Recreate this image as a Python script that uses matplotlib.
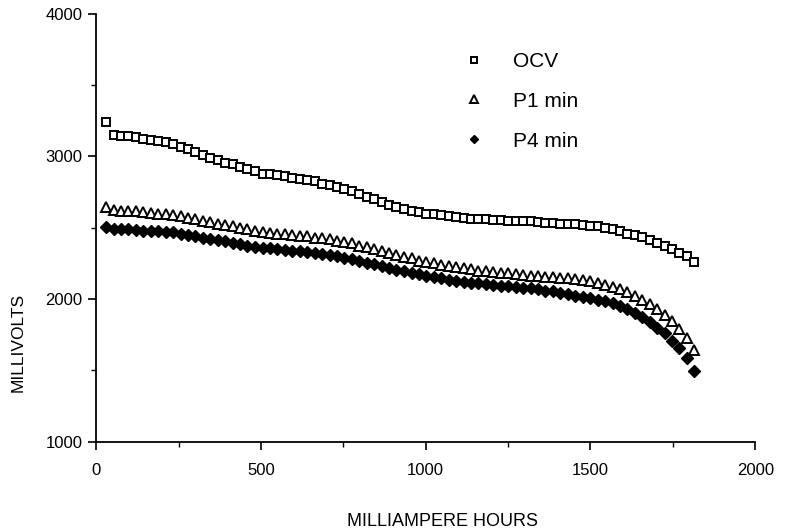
import matplotlib
matplotlib.use("Agg")
import matplotlib.pyplot as plt
from matplotlib.ticker import MultipleLocator

# capacity drawn (mAh) - shared by all three series
mah = [30, 53, 75, 98, 120, 143, 166, 188, 211, 233,
       256, 279, 301, 324, 346, 369, 392, 414, 437, 459,
       482, 505, 527, 550, 572, 595, 618, 640, 663, 685,
       708, 731, 753, 776, 798, 821, 844, 866, 889, 911,
       934, 957, 979, 1002, 1024, 1047, 1070, 1092, 1115, 1137,
       1160, 1183, 1205, 1228, 1250, 1273, 1296, 1318, 1341, 1363,
       1386, 1409, 1431, 1454, 1476, 1499, 1522, 1544, 1567, 1589,
       1612, 1635, 1657, 1680, 1702, 1725, 1748, 1770, 1793, 1815]

ocv = [3240, 3150, 3145, 3140, 3135, 3125, 3115, 3110, 3100, 3090,
       3065, 3050, 3030, 3010, 2990, 2975, 2955, 2945, 2925, 2910,
       2895, 2880, 2875, 2870, 2860, 2850, 2845, 2835, 2825, 2810,
       2800, 2785, 2770, 2755, 2735, 2715, 2700, 2680, 2660, 2645,
       2630, 2620, 2610, 2600, 2595, 2590, 2585, 2575, 2570, 2565,
       2560, 2560, 2555, 2555, 2550, 2550, 2545, 2545, 2540, 2535,
       2535, 2530, 2530, 2525, 2520, 2515, 2510, 2500, 2490, 2480,
       2460, 2450, 2435, 2415, 2395, 2375, 2350, 2325, 2300, 2260]

p1 = [2648, 2625, 2620, 2620, 2615, 2610, 2605, 2600, 2595, 2590,
      2580, 2570, 2560, 2550, 2540, 2530, 2520, 2510, 2500, 2490,
      2480, 2470, 2465, 2460, 2455, 2450, 2445, 2440, 2430, 2425,
      2420, 2410, 2400, 2390, 2375, 2365, 2350, 2340, 2325, 2310,
      2295, 2285, 2270, 2260, 2250, 2240, 2230, 2225, 2215, 2210,
      2200, 2195, 2190, 2185, 2180, 2175, 2170, 2165, 2160, 2155,
      2155, 2150, 2145, 2140, 2135, 2125, 2110, 2100, 2085, 2070,
      2050, 2025, 1995, 1965, 1930, 1890, 1845, 1790, 1725, 1645]

p4 = [2507, 2495, 2490, 2490, 2485, 2480, 2478, 2475, 2470, 2468,
      2460, 2450, 2440, 2430, 2420, 2415, 2405, 2395, 2385, 2375,
      2365, 2360, 2355, 2350, 2345, 2340, 2335, 2330, 2320, 2315,
      2310, 2300, 2290, 2280, 2270, 2255, 2245, 2230, 2220, 2205,
      2195, 2185, 2175, 2165, 2155, 2145, 2135, 2125, 2120, 2115,
      2110, 2105, 2100, 2095, 2090, 2085, 2080, 2075, 2070, 2060,
      2055, 2045, 2035, 2025, 2015, 2005, 1995, 1985, 1970, 1950,
      1930, 1905, 1875, 1840, 1800, 1760, 1710, 1655, 1585, 1495]

labels = ["OCV", "P1 min", "P4 min"]

plt.rcParams['font.family'] = ['Liberation Sans', 'DejaVu Sans']

fig = plt.figure(figsize=(7.95, 5.31), dpi=100)
ax = fig.add_axes([0.121, 0.168, 0.829, 0.806])

ax.plot(mah, ocv, ls='none', marker='s', ms=6.2, mfc='white', mec='black',
        mew=1.4, label=labels[0])
ax.plot(mah, p1, ls='none', marker='^', ms=7, mfc='white', mec='black',
        mew=1.4, label=labels[1])
ax.plot(mah, p4, ls='none', marker='D', ms=5.8, mfc='black', mec='black',
        mew=1.0, label=labels[2])

ax.set_xlim(0, 2000)
ax.set_ylim(1000, 4000)
ax.xaxis.set_major_locator(MultipleLocator(500))
ax.xaxis.set_minor_locator(MultipleLocator(250))
ax.yaxis.set_major_locator(MultipleLocator(1000))
ax.yaxis.set_minor_locator(MultipleLocator(500))

for s in ['top', 'right']:
    ax.spines[s].set_visible(False)
for s in ['left', 'bottom']:
    ax.spines[s].set_linewidth(1.3)

ax.tick_params(axis='both', which='major', direction='out', length=6,
               width=1.2, labelsize=12)
ax.tick_params(axis='both', which='minor', direction='out', length=3.5,
               width=1.0)
ax.tick_params(axis='x', which='major', pad=9)
ax.tick_params(axis='y', which='major', pad=4)

ax.set_xlabel("MILLIAMPERE HOURS", fontsize=13, va='center')
ax.xaxis.set_label_coords(0.525, -0.187)
ax.set_ylabel("MILLIVOLTS", fontsize=12.5, va='center')
ax.yaxis.set_label_coords(-0.118, 0.231)

leg = ax.legend(loc='upper left', bbox_to_anchor=(0.557, 0.911), frameon=False,
                fontsize=15, markerscale=0.75, handlelength=1.0,
                handletextpad=1.37, labelspacing=1.0, borderpad=0,
                borderaxespad=0)

fig.savefig("out.png", dpi=100)
